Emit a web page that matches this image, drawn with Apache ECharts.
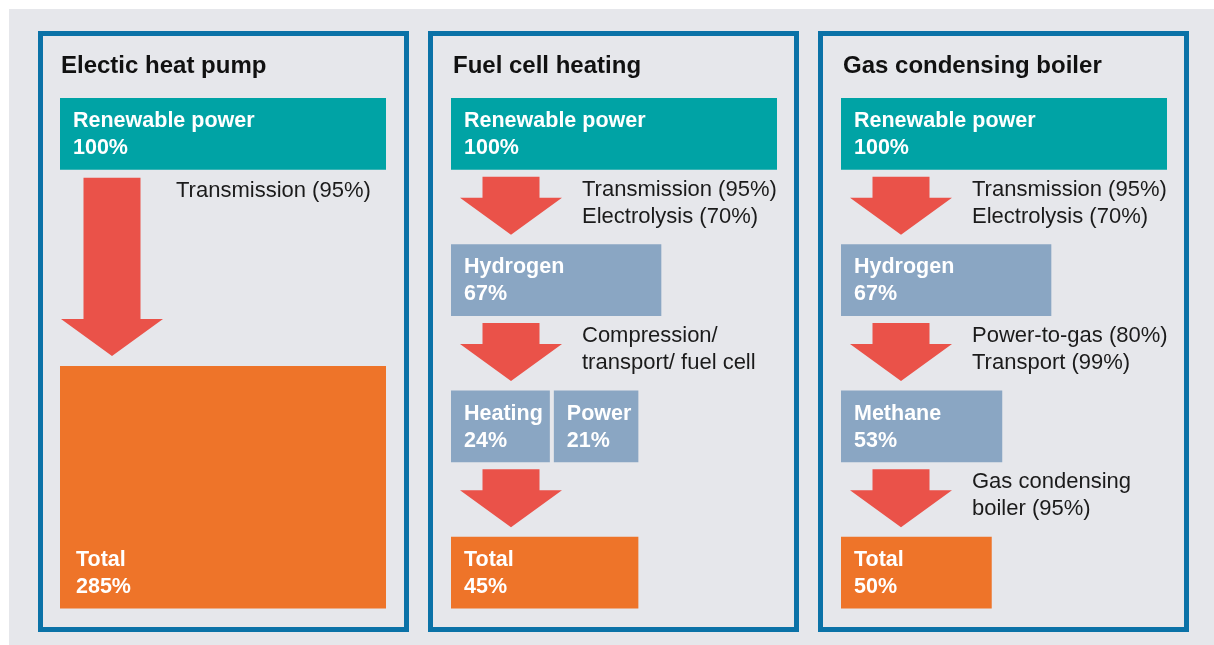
<!DOCTYPE html>
<html lang="en">
<head>
<meta charset="UTF-8">
<title>Efficiency chains</title>
<style>
    html, body { margin: 0; padding: 0; background: #fff; }
    #main { width: 1214px; height: 645px; }
</style>
<script src="https://cdn.jsdelivr.net/npm/echarts@6/dist/echarts.min.js"></script>
</head>
<body>
<div id="main"></div>
<script>
// panel titles
var panelTitles = ['Electic heat pump', 'Fuel cell heating', 'Gas condensing boiler'];
// box names of each stage (a stage can hold more than one box)
var stageNames = [
    [['Renewable power'], ['Total']],
    [['Renewable power'], ['Hydrogen'], ['Heating', 'Power'], ['Total']],
    [['Renewable power'], ['Hydrogen'], ['Methane'], ['Total']]
];
// energy left in % for each box
var stageValues = [
    [[100], [285]],
    [[100], [67], [24, 21], [45]],
    [[100], [67], [53], [50]]
];
// conversion steps written next to the arrows
var stepNotes = [
    [['Transmission (95%)']],
    [['Transmission (95%)', 'Electrolysis (70%)'], ['Compression/', 'transport/ fuel cell'], []],
    [['Transmission (95%)', 'Electrolysis (70%)'], ['Power-to-gas (80%)', 'Transport (99%)'], ['Gas condensing', 'boiler (95%)']]
];

var TEAL = '#00a3a5', BLUE = '#8aa6c3', ORANGE = '#ee7429', RED = '#ea5249';
var BORDER = '#0b72a7', BG = '#e6e7eb', INK = '#1b1b1b';
var FONT = '"Liberation Sans", Arial, sans-serif';
var BOX_FONT = 'bold 21.5px ' + FONT;
var NOTE_FONT = '22px ' + FONT;

var X_MIN = 7, X_MAX = 100;   // box width scale
var BOX_ROWS = 0.49;          // box height in rows
var LONG_TIP = 1.764;         // tip of the single long arrow
var panelLeft = [60, 451, 841];

var ctx = document.createElement('canvas').getContext('2d');
function textWidth(str, font) {
    ctx.font = font;
    return ctx.measureText(str).width;
}

function rowOf(p, s) {
    return s === stageNames[p].length - 1 ? 3 : s;
}

function boxList(p) {
    var out = [];
    var last = stageNames[p].length - 1;
    stageNames[p].forEach(function (names, s) {
        names.forEach(function (n, k) {
            out.push({
                name: n, value: stageValues[p][s][k], stage: s, k: k, row: rowOf(p, s),
                color: s === 0 ? TEAL : (s === last ? ORANGE : BLUE)
            });
        });
    });
    return out;
}

function arrowList(p) {
    var out = [];
    for (var s = 0; s < stageNames[p].length - 1; s++) {
        var r0 = rowOf(p, s), r1 = rowOf(p, s + 1);
        var isLong = r1 - r0 > 1;
        out.push({
            notes: stepNotes[p][s] || [], long: isLong,
            top: r0 + BOX_ROWS + (isLong ? 0.055 : 0.048),
            tip: isLong ? LONG_TIP : r1 - 0.065
        });
    }
    return out;
}

// pixel widths of the boxes of one stage
function stageWidths(p, s, api) {
    var x0 = api.coord([X_MIN, 0])[0];
    var vals = stageValues[p][s];
    var ws = vals.map(function (v, k) {
        var w = api.coord([Math.min(v, X_MAX), 0])[0] - x0;
        if (vals.length > 1) w = Math.max(w, textWidth(stageNames[p][s][k], BOX_FONT) + 20);
        return w;
    });
    // a box right after a split stage covers the whole split
    if (s > 0 && stageValues[p][s - 1].length > 1 && vals.length === 1) {
        var prev = stageWidths(p, s - 1, api);
        ws[0] = prev.reduce(function (a, b) { return a + b; }, 0) + 4 * (prev.length - 1);
    }
    return ws;
}

var series = [];
var grids = [], xAxes = [], yAxes = [], titles = [];

panelTitles.forEach(function (t, p) {
    grids.push({ left: panelLeft[p], top: 98, width: 326, height: 512 });
    xAxes.push({ gridIndex: p, type: 'value', min: X_MIN, max: X_MAX, show: false });
    yAxes.push({ gridIndex: p, type: 'value', min: 0, max: 3.5, inverse: true, show: false });
    titles.push({
        text: t, left: panelLeft[p] - (p === 0 ? 4 : 3), top: 49,
        textStyle: { fontFamily: FONT, fontWeight: 'bold', fontSize: 24, color: '#111' }
    });

    var boxes = boxList(p);
    series.push({
        type: 'custom', xAxisIndex: p, yAxisIndex: p, silent: true,
        data: boxes.map(function (b) {
            var top = b.value > X_MAX ? LONG_TIP + 0.068 : b.row;
            return [Math.min(b.value, X_MAX), top, b.row + BOX_ROWS];
        }),
        renderItem: function (params, api) {
            var b = boxes[params.dataIndex];
            var x0 = api.coord([X_MIN, 0])[0];
            var ws = stageWidths(p, b.stage, api);
            var x = x0;
            for (var k = 0; k < b.k; k++) x += ws[k] + 4;
            var y0 = api.coord([X_MIN, api.value(1)])[1];
            var y1 = api.coord([X_MIN, api.value(2)])[1];
            var tx = x + (b.value > X_MAX ? 16 : 13);
            return {
                type: 'group',
                children: [
                    { type: 'rect', shape: { x: x, y: y0, width: ws[b.k], height: y1 - y0 }, style: { fill: b.color } },
                    { type: 'text', style: { text: b.name, x: tx, y: y1 - 48.5, font: BOX_FONT, fill: '#fff', verticalAlign: 'middle' } },
                    { type: 'text', style: { text: b.value + '%', x: tx, y: y1 - 21.5, font: BOX_FONT, fill: '#fff', verticalAlign: 'middle' } }
                ]
            };
        }
    });

    var arrows = arrowList(p);
    series.push({
        type: 'custom', xAxisIndex: p, yAxisIndex: p, silent: true,
        data: arrows.map(function (a) { return [X_MIN, a.top, a.tip]; }),
        renderItem: function (params, api) {
            var a = arrows[params.dataIndex];
            var x0 = api.coord([X_MIN, 0])[0];
            var yTop = api.coord([X_MIN, api.value(1)])[1];
            var yTip = api.coord([X_MIN, api.value(2)])[1];
            var cx = x0 + (a.long ? 52 : 60);
            var yHead = yTip - 37;
            var kids = [{
                type: 'polygon',
                shape: { points: [[cx - 28.5, yTop], [cx + 28.5, yTop], [cx + 28.5, yHead], [cx + 51, yHead],
                    [cx, yTip], [cx - 51, yHead], [cx - 28.5, yHead]] },
                style: { fill: RED }
            }];
            var tx = cx + 51 + (a.long ? 13 : 20);
            a.notes.forEach(function (line, i) {
                kids.push({ type: 'text', style: { text: line, x: tx, y: yTop + 13 + 27 * i, font: NOTE_FONT, fill: INK, verticalAlign: 'middle' } });
            });
            return { type: 'group', children: kids };
        }
    });
});

var chart = echarts.init(document.getElementById('main'));
chart.setOption({
    animation: false,
    backgroundColor: '#fff',
    title: titles,
    grid: grids,
    xAxis: xAxes,
    yAxis: yAxes,
    graphic: [
        { type: 'rect', z: -10, shape: { x: 9, y: 9, width: 1205, height: 636 }, style: { fill: BG } },
        { type: 'rect', z: -9, shape: { x: 40.5, y: 33.5, width: 366, height: 596 }, style: { fill: 'none', stroke: BORDER, lineWidth: 5 } },
        { type: 'rect', z: -9, shape: { x: 430.5, y: 33.5, width: 366, height: 596 }, style: { fill: 'none', stroke: BORDER, lineWidth: 5 } },
        { type: 'rect', z: -9, shape: { x: 820.5, y: 33.5, width: 366, height: 596 }, style: { fill: 'none', stroke: BORDER, lineWidth: 5 } }
    ],
    series: series
});
</script>
</body>
</html>
